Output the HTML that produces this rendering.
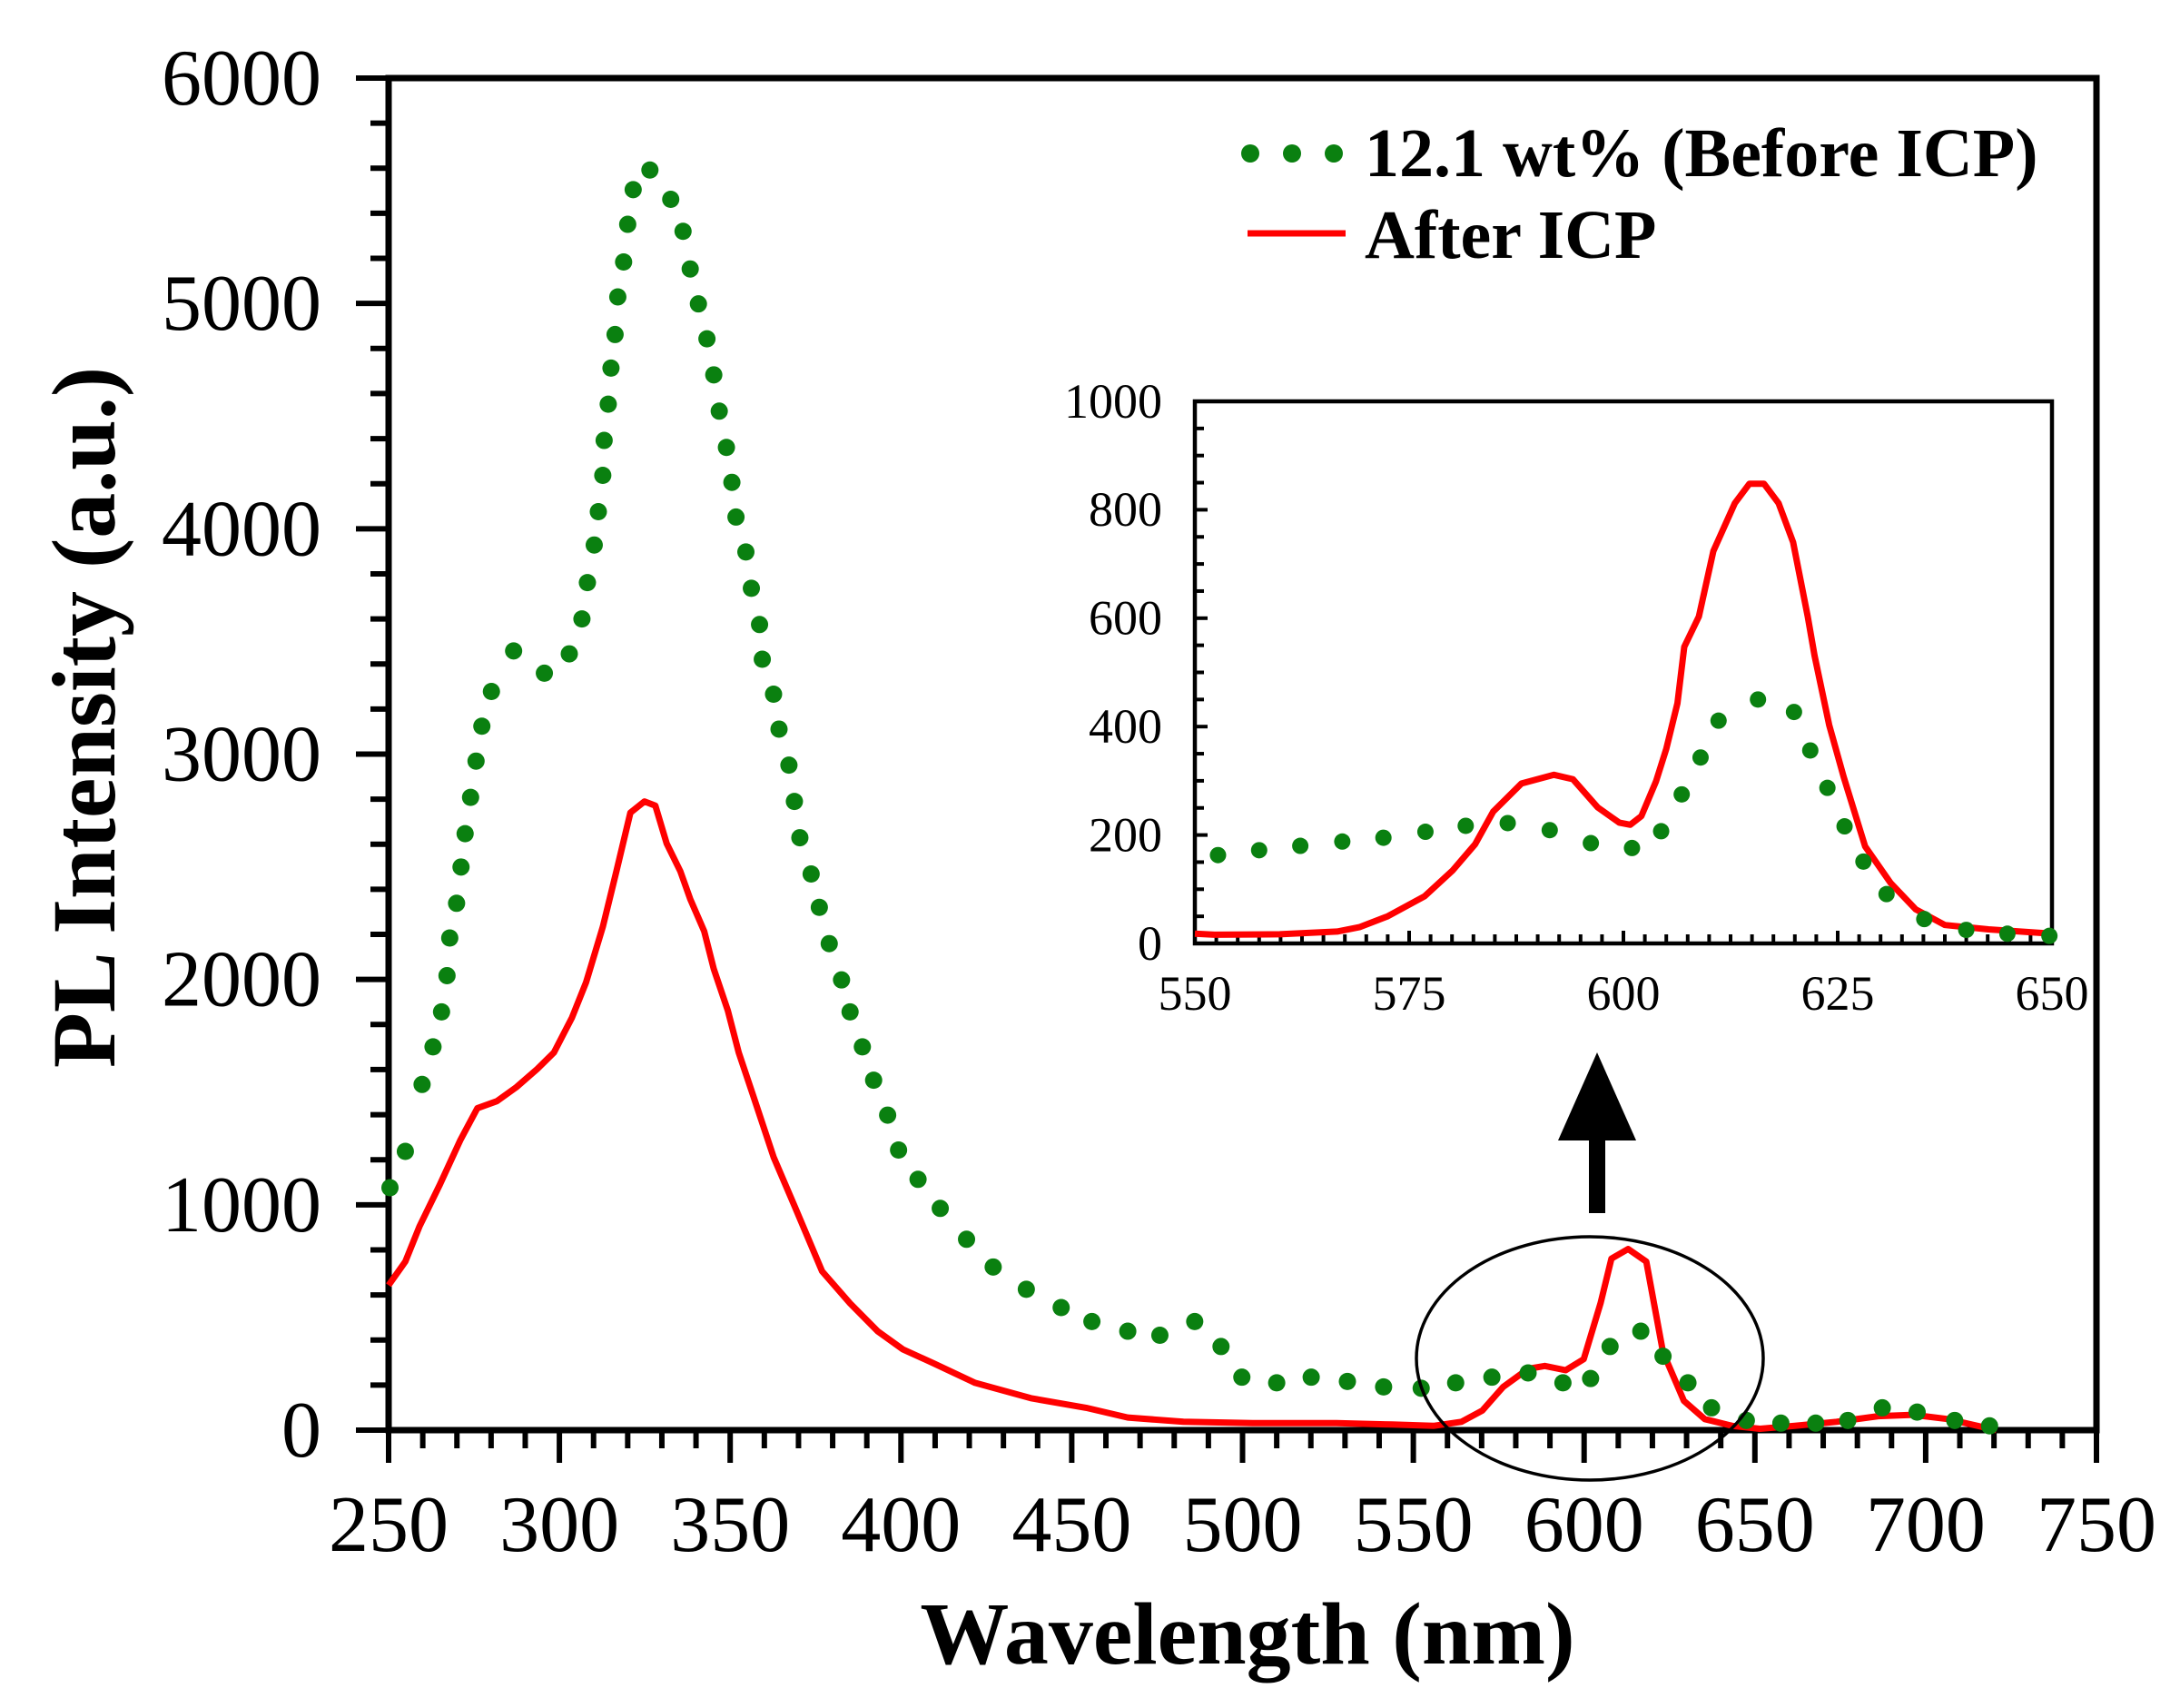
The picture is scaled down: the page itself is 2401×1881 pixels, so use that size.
<!DOCTYPE html>
<html><head><meta charset="utf-8"><style>
html,body{margin:0;padding:0;background:#fff;}
svg{display:block;font-family:"Liberation Serif",serif;}
</style></head><body>
<svg id="chart" width="2401" height="1881" viewBox="0 0 2401 1881" xmlns="http://www.w3.org/2000/svg">
<rect width="2401" height="1881" fill="#fff"/>
<g id="main"></g>
<g id="inset"></g>
<g id="legend">
  <circle cx="1377" cy="169" r="10" fill="#0a8010"/>
  <circle cx="1423" cy="169" r="10" fill="#0a8010"/>
  <circle cx="1469" cy="169" r="10" fill="#0a8010"/>
  <text x="1503" y="194" font-size="76" font-weight="bold">12.1 wt% (Before ICP)</text>
  <line x1="1374" y1="257" x2="1482" y2="257" stroke="#f00" stroke-width="7"/>
  <text x="1503" y="284" font-size="76" font-weight="bold">After ICP</text>
</g>
<ellipse cx="1751" cy="1496" rx="191" ry="134" fill="none" stroke="#000" stroke-width="3.5"/>
<g>
  <rect x="1750" y="1250" width="18" height="86" fill="#000"/>
  <polygon points="1759,1159 1716,1256 1802,1256" fill="#000"/>
</g>
<text x="1374" y="1832" font-size="98" font-weight="bold" text-anchor="middle">Wavelength (nm)</text>
<text transform="translate(126,790) rotate(-90)" font-size="100" font-weight="bold" text-anchor="middle">PL Intensity (a.u.)</text>
</svg>
<script>
// Main chart data
const beforeX = [250.4,254.9,259.8,263.0,265.5,267.1,267.9,269.9,271.2,272.4,274.0,275.6,277.3,280.1,286.6,295.6,302.9,306.6,308.2,310.2,311.4,312.7,313.1,314.3,315.1,316.3,317.1,318.8,320.0,321.6,326.5,332.6,336.2,338.3,340.7,343.2,345.2,346.8,348.9,350.5,351.7,354.6,356.2,358.6,359.4,362.7,364.3,367.2,368.8,370.4,373.7,376.1,379.0,382.6,385.1,388.7,392.0,396.1,399.3,405.0,411.5,419.2,427.0,436.7,446.9,455.9,466.4,475.8,486.0,493.7,499.8,510.0,520.1,530.7,541.3,552.3,562.4,573.0,583.6,593.8,601.9,607.6,616.6,623.1,630.4,637.3,647.5,657.6,667.8,677.2,687.3,697.5,708.5,718.7];
const beforeY = [1076,1237,1534,1701,1856,2017,2184,2338,2499,2647,2808,2969,3124,3278,3458,3359,3445,3600,3761,3928,4076,4237,4392,4553,4713,4862,5029,5184,5351,5505,5592,5462,5320,5153,4998,4843,4683,4522,4361,4206,4052,3897,3736,3575,3421,3266,3111,2951,2790,2629,2468,2320,2159,1998,1856,1701,1553,1398,1243,1113,984,847,724,625,544,482,439,421,482,371,235,210,235,216,192,186,210,235,254,210,229,371,439,328,210,99,43,31,31,43,99,80,43,19];
const afterX = [250,254.9,259,265,271,276,281.7,287.4,293.5,298.4,303.7,307.8,312.7,316.7,320.8,324.9,328.1,331.4,335.4,338.3,342.4,345.2,349.3,352.5,356.6,362.7,368.8,376.9,385.1,393.2,400.5,409.5,421.7,438.0,454.2,466.4,482.7,503.0,527.5,543.7,555.9,564.1,570.2,576.3,583.6,588.5,594.6,599.9,604.8,608.0,612.9,618.2,623.1,629.2,635.3,643.4,651.5,661.7,673.9,686.1,696.3,706.5,720.7];
const afterY = [643,748,903,1089,1287,1429,1460,1522,1602,1676,1831,1986,2233,2480,2740,2790,2771,2604,2480,2357,2214,2047,1862,1676,1491,1212,996,705,563,439,359,297,210,142,99,56,37,31,31,25,19,37,87,192,272,285,266,315,563,761,804,748,346,130,49,19,6,19,37,62,68,49,0];
const xTicks = [250,300,350,400,450,500,550,600,650,700,750];
const yTicks = [0,1000,2000,3000,4000,5000,6000];
// Inset data
const inBeforeX = [552.7,557.5,562.3,567.2,572.0,576.9,581.6,586.5,591.4,596.2,601.0,604.4,606.8,609.0,611.1,615.7,619.9,621.8,623.8,625.8,628.0,630.7,635.1,640.0,644.8,649.7];
const inBeforeY = [163,172,180,188,195,206,217,222,209,185,176,207,275,343,411,450,427,356,287,216,151,91,45,25,18,14];
const inAfterX = [550,552.3,559.9,566.6,569.2,572.5,576.8,580.1,582.7,584.8,588.1,591.9,594.1,597.0,599.5,600.8,602.1,603.8,605.0,606.3,607.1,608.8,610.5,613.0,614.7,616.4,618.1,619.8,621.5,622.3,624.0,625.7,628.2,631.2,634.1,637.5,642.6,650];
const inAfterY = [18,16,17,22,30,50,87,135,183,243,295,311,303,251,223,219,235,299,359,443,547,603,724,812,848,848,812,740,603,531,403,307,179,111,63,34,26,18];
const inXTicks = [550,575,600,625,650];
const inYTicks = [0,200,400,600,800,1000];

const NS = "http://www.w3.org/2000/svg";
function mk(parent, tag, attrs){
  const e = document.createElementNS(NS, tag);
  for (const k in attrs) e.setAttribute(k, attrs[k]);
  parent.appendChild(e);
  return e;
}

function drawPanel(g, o){
  const sx = v => o.L + (v - o.x0) / (o.x1 - o.x0) * (o.R - o.L);
  const sy = v => o.B - (v - o.y0) / (o.y1 - o.y0) * (o.B - o.T);
  const fr = mk(g, 'rect', {x:o.L, y:o.T, width:o.R-o.L, height:o.B-o.T, fill:'none', stroke:'#000', 'stroke-width':o.lw});
  
  
  for (let v = o.x0; v <= o.x1 + 1e-6; v += o.xMinor) {
    const isMajor = Math.abs(((v - o.x0) / o.xMajor) - Math.round((v - o.x0) / o.xMajor)) < 1e-6;
    const len = isMajor ? o.majLen : o.minLen;
    const t = mk(g, 'line', {x1:sx(v), x2:sx(v), y1:o.B, y2:o.B + o.tdir*len, stroke:'#000', 'stroke-width':o.tw});
    
    
  }
  for (let v = o.y0; v <= o.y1 + 1e-6; v += o.yMinor) {
    const isMajor = Math.abs(((v - o.y0) / o.yMajor) - Math.round((v - o.y0) / o.yMajor)) < 1e-6;
    const len = isMajor ? o.majLen : o.minLen;
    const t = mk(g, 'line', {x1:o.L, x2:o.L - o.tdir*len, y1:sy(v), y2:sy(v), stroke:'#000', 'stroke-width':o.tw});
    
    
  }
  o.xt.forEach(v => {
    const t = mk(g, 'text', {x:sx(v), y:o.xLabY, 'font-size':o.fs, 'text-anchor':'middle'});
    
    
    t.textContent = v;
  });
  o.yt.forEach(v => {
    const t = mk(g, 'text', {x:o.yLabX, y:sy(v) + o.fs*0.33, 'font-size':o.fs, 'text-anchor':'end'});
    
    
    t.textContent = v;
  });
  let d = '';
  o.ax.forEach((x, i) => { d += (i ? 'L' : 'M') + sx(x).toFixed(1) + ',' + sy(o.ay[i]).toFixed(1); });
  const p = mk(g, 'path', {d:d, fill:'none', stroke:'#f00', 'stroke-width':o.lineW, 'stroke-linejoin':'round'});
  
  
  o.bx.forEach((x, i) => {
    const c = mk(g, 'circle', {cx:sx(x), cy:sy(o.by[i]), r:o.dotR, fill:'#0a8010'});
    
    
  });
}

drawPanel(document.getElementById('main'), {
  prefix:'', L:428, R:2309, T:86, B:1575, x0:250, x1:750, y0:0, y1:6000,
  xMinor:10, xMajor:50, yMinor:200, yMajor:1000, majLen:36, minLen:20, tdir:1, lw:7, tw:6,
  xt:xTicks, yt:yTicks, fs:88, xLabY:1708, yLabX:354,
  ax:afterX, ay:afterY, bx:beforeX, by:beforeY, lineW:7, dotR:9.5
});
const ig = document.getElementById('inset');


mk(ig, 'rect', {x:1316, y:442, width:944, height:598, fill:'#fff'});
drawPanel(ig, {
  prefix:'inset-', L:1316, R:2260, T:442, B:1039, x0:550, x1:650, y0:0, y1:1000,
  xMinor:2.5, xMajor:25, yMinor:50, yMajor:200, majLen:-14, minLen:-10, tdir:1, lw:4.5, tw:4,
  xt:inXTicks, yt:inYTicks, fs:54, xLabY:1112, yLabX:1280,
  ax:inAfterX, ay:inAfterY, bx:inBeforeX, by:inBeforeY, lineW:7, dotR:9
});
</script>
</body></html>
